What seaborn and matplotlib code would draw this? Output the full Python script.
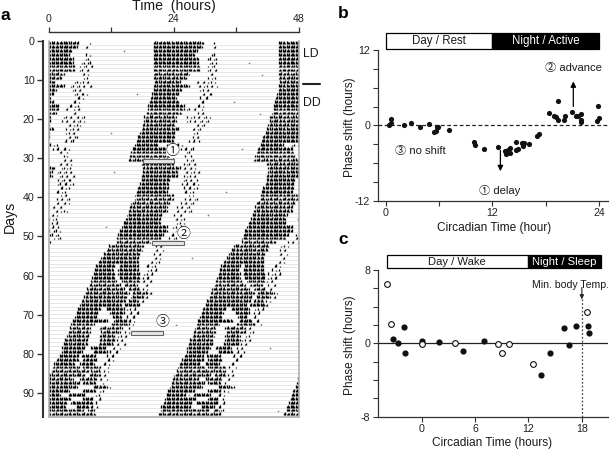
import numpy as np
import pandas as pd
import matplotlib
matplotlib.use("Agg")
import matplotlib.pyplot as plt
import seaborn as sns

nan = float("nan")
# ---------- panel a: activity bouts per day, hours ----------
onset_h = [20.0,20.0,20.0,20.0,20.0,20.0,20.0,20.0,20.1,20.2,20.4,20.0,
 20.0,19.9,19.7,19.4,19.1,19.1,18.8,18.4,18.4,18.1,17.8,17.5,17.2,16.8,16.5,16.2,15.9,15.6,15.4,
 17.8,18.1,18.1,17.8,17.8,17.5,17.2,16.8,16.7,16.5,15.9,15.6,15.3,15.1,14.8,14.3,14.0,13.7,13.3,13.1,13.0,
 11.7,11.1,10.6,10.1,9.7,9.2,8.9,8.6,8.4,8.0,7.8,7.4,7.1,6.8,6.3,6.0,5.7,5.4,5.0,
 4.7,4.4,4.2,3.8,3.5,3.1,2.8,2.7,2.5,2.0,1.7,1.2,0.9,0.6,0.1,-0.2,-0.5,-0.7,-1.1,-1.4,-1.7,-2.0,-2.3,-2.5,-2.8]
main_end_h = [29.6,29.3,28.3,28.0,28.6,28.6,29.0,29.0,27.0,26.4,25.2,27.0,
 25.5,25.0,24.5,25.0,25.8,25.8,25.5,24.5,24.5,24.2,24.8,24.2,24.2,23.9,21.0,22.6,22.9,23.2,23.9,
 23.9,25.1,24.6,24.6,23.2,22.9,22.9,22.6,23.9,23.9,23.2,22.6,22.6,21.6,21.3,21.3,22.6,22.6,22.0,21.3,19.4,
 18.1,17.8,17.5,17.2,17.2,12.7,12.4,12.7,12.7,13.0,13.7,14.3,15.3,15.0,14.6,14.0,9.8,9.5,9.2,
 11.1,8.6,7.9,7.9,7.6,7.3,7.3,7.0,6.3,5.7,5.7,5.0,6.0,7.6,7.0,4.7,6.0,5.4,4.0,2.2,4.1,3.4,3.1,6.6,8.9]
mid_start_h = [nan]*57 + [13.7,13.3,13.3,13.7,14.0,14.6,15.3,16.2,15.9,15.3,14.6,11.1,11.8,12.4,12.7,12.1,
 9.8,10.2,9.8,9.8,9.5,8.0,8.6,6.3,6.6,6.0,6.6,8.2,7.9,6.0,6.5,8.6,6.5,3.8,6.6,4.4,5.4,7.6,nan]
mid_end_h = [nan]*57 + [17.2,17.2,17.5,17.5,17.5,16.9,17.5,18.8,18.1,16.9,17.5,14.3,14.3,14.0,14.9,15.3,
 13.7,13.7,12.7,12.7,12.4,10.8,11.1,8.9,9.2,8.6,9.8,9.8,9.8,9.2,9.0,11.0,9.0,7.0,8.3,8.5,7.6,8.6,nan]
tail_start_h = [31.5,31.0,nan,31.0,30.6,30.4,30.0,30.0,30.6,30.6,28.3,28.3,28.6,29.0,29.0,28.7,28.0,26.5,28.6,26.7,
 26.4,27.7,27.4,27.4,27.7,26.7,22.6,24.5,25.8,26.1,26.4,25.8,25.8,25.8,25.8,25.5,25.5,25.8,25.5,25.8,
 25.5,25.1,24.5,24.5,24.2,23.9,24.2,23.9,23.9,23.2,23.2,21.3,20.4,20.4,20.0,20.0,19.4,
 18.8,18.8,18.1,18.1,17.8,18.1,18.0,18.8,18.1,16.9,17.5,15.2,15.2,15.2,15.0,15.3,14.0,14.3,13.3,13.0,12.7,
 12.0,11.8,11.1,11.4,10.5,10.5,10.5,10.0,9.8,9.8,11.0,9.5,8.5,9.0,9.0,8.0,9.0,nan]
tail_end_h = [32.0,32.2,nan,32.0,32.2,32.2,32.3,32.6,32.0,32.0,32.0,32.3,30.6,31.5,31.0,30.0,30.0,30.0,29.6,31.2,
 31.0,30.2,29.6,29.0,29.3,29.0,25.8,28.0,27.7,27.7,28.3,28.3,28.3,29.0,29.0,28.3,28.6,28.3,27.7,27.7,
 28.3,28.0,27.0,27.7,26.0,25.8,25.8,25.8,26.4,26.4,26.4,24.5,22.0,22.0,21.6,21.3,21.3,
 20.7,20.7,20.7,20.0,19.7,19.4,19.0,19.8,19.6,18.4,18.2,17.2,17.2,16.5,16.5,16.6,15.3,15.3,15.0,14.6,14.6,
 13.7,13.3,13.0,12.7,12.0,12.0,11.5,11.5,11.2,10.5,12.0,10.5,10.0,10.0,9.8,9.4,9.5,nan]
stray_day = [2,5,13,18,23,27,38,47,55,60,66,72,78,84,90,94,8,15,33,44]
stray_hour = [14.5,38.5,17.0,40.5,12.0,37.0,34.0,11.0,27.5,41.0,33.0,24.5,42.5,30.0,27.0,44.0,41.0,35.5,12.5,30.5]
bar_day = [30.1, 51.1, 74.1]
bar_hour = [18.1, 19.9, 15.9]
stim_labels = ["①", "②", "③"]
circle_hour = [23.8, 25.8, 21.9]
circle_day = [28.1, 49.3, 72.0]

# ---------- panel b ----------
b_ct = [0.41,0.6,0.64,2.1,2.81,3.9,4.84,5.44,5.62,5.74,5.92,7.09,9.9,10.01,11.1,12.6,13.42,13.57,13.72,13.99,13.99,
 14.62,14.62,14.89,15.3,15.49,15.6,16.12,17.06,17.29,18.37,18.97,19.16,19.35,19.35,20.1,20.17,20.92,21.37,21.67,
 21.93,21.93,21.93,23.73,23.96,23.92]
b_shift = [0,0.32,0.96,0,0.37,-0.27,0.21,-1.06,-0.85,-0.27,-0.32,-0.8,-2.6,-3.13,-3.72,-3.45,-4.04,-4.62,-3.93,-3.61,-4.46,
 -2.66,-3.98,-3.77,-2.76,-3.24,-2.76,-2.97,-1.75,-1.38,2.02,1.49,1.27,0.85,3.93,0.8,1.49,2.12,1.49,1.49,
 1.75,0.85,0.48,0.69,1.12,3.03]
# ---------- panel c ----------
c_open_ct = [-3.95,-3.39,0.07,3.76,8.57,9.06,9.8,12.49,18.6]
c_open_shift = [6.44,2.07,-0.11,0.04,-0.04,-1.02,-0.04,-2.22,3.38]
c_fill_ct = [-3.24,-2.61,-2.01,-1.83,0,1.94,4.62,7.01,13.42,14.42,15.95,16.51,17.29,18.71,18.79]
c_fill_shift = [0.44,0.04,1.75,-1.09,0.29,0.18,-0.84,0.29,-3.49,-1.05,1.71,-0.22,1.85,1.93,1.09]

sns.set_style("ticks")
plt.rcParams["font.family"] = ["Liberation Sans", "Noto Sans CJK SC", "DejaVu Sans"]
plt.rcParams["text.color"] = "#1a1a1a"
W, H = 609, 451
fig = plt.figure(figsize=(W/100, H/100), dpi=100, facecolor="white")
def box(l, t, r, b):
    return fig.add_axes([l/W, 1-b/H, (r-l)/W, (b-t)/H])
def ptxt(x, y, s, **kw):
    fig.text(x/W, 1-y/H, s, **kw)

FS = 7.7
LAB = 8.6
# ---------------- a ----------------
ax = box(48.5, 41, 299, 417)
ax.set_xlim(0, 48); ax.set_ylim(96.2, 0)
ax.hlines(np.arange(96)+0.95, 0, 48, color="#e6e6e6", lw=0.7)
dense = [0.66,0.46,0.72,0.54,0.74,0.38,0.7,0.5,0.62,0.74,0.42]
sparse = [0.5,0,0,0.28,0.6,0,0,0,0.36,0.6,0,0,0.22,0]
step = 0.25
def bout(day, a, b, pat):
    xs, y0, y1 = [], [], []
    if np.isnan(a):
        return xs, y0, y1
    for sh in (-24, 0, 24, 48):
        s, e = a+sh, b+sh
        if e <= 0 or s >= 48:
            continue
        k0 = int(np.floor(s/step))
        for k in range(k0, int(np.ceil(e/step))):
            h = pat[(k+day*3) % len(pat)]
            if h > 0:
                xs.append((k+0.5)*step); y0.append(day+0.78); y1.append(day+0.78-h)
    return xs, y0, y1
X, Y0, Y1 = [], [], []
for d in range(96):
    for a, b, p in ((onset_h[d], main_end_h[d], dense), (mid_start_h[d], mid_end_h[d], dense),
                    (tail_start_h[d], tail_end_h[d], sparse)):
        x, y0, y1 = bout(d, a, b, p)
        X += x; Y0 += y0; Y1 += y1
ax.vlines(X, Y0, Y1, color="black", lw=0.95)
sns.scatterplot(x=stray_hour, y=np.array(stray_day)+0.6, ax=ax, s=1.5, color="#777777", linewidth=0, legend=False)
for h, dd in zip(bar_hour, bar_day):
    ax.barh(dd+0.5, 6, left=h, height=1.0, color="#e8e8e8", edgecolor="#666666", lw=0.8, zorder=4)
for s, h, dd in zip(stim_labels, circle_hour, circle_day):
    ax.text(h, dd, s, ha="center", va="center", fontsize=10, color="#222222", zorder=5,
            bbox=dict(boxstyle="circle,pad=0.0", fc="white", ec="none"))
sns.despine(ax=ax, top=False, right=False, left=False, bottom=False)
for s in ("right", "bottom"):
    ax.spines[s].set_color("#b0b0b0"); ax.spines[s].set_linewidth(1.2)
ax.spines["left"].set_position(("outward", 4)); ax.spines["left"].set_linewidth(1.5); ax.spines["left"].set_color("#333333")
ax.spines["top"].set_position(("outward", 6.5)); ax.spines["top"].set_linewidth(1.0); ax.spines["top"].set_color("#333333")
ax.axvline(0, color="#b0b0b0", lw=1.2, clip_on=False)
ax.xaxis.tick_top()
ax.set_xticks([0, 12, 24, 36, 48]); ax.set_xticklabels(["0", "", "24", "", "48"])
ax.set_yticks(np.arange(0, 91, 10))
ax.tick_params(axis="x", length=3.5, width=0.9, labelsize=7.6, pad=2, color="#333333", labelcolor="#222222")
ax.tick_params(axis="y", length=4, width=1.0, labelsize=FS, pad=2, color="#333333", labelcolor="#222222")
ptxt(174, 6, "Time  (hours)", ha="center", va="center", fontsize=10.2)
ptxt(10, 217, "Days", rotation=90, ha="center", va="center", fontsize=10.2)
ptxt(302.5, 54, "LD", va="center", fontsize=8.8)
ptxt(302.5, 103, "DD", va="center", fontsize=8.8)
fig.add_artist(plt.Line2D([303/W, 320/W], [1-84/H]*2, color="#222222", lw=1.5))

# ---------------- b ----------------
bx = box(377.7, 50, 608, 200.7)
bx.set_xlim(-0.9, 25.0); bx.set_ylim(-12, 12)
bx.axhline(0, color="#222222", lw=0.9, ls=(0, (3, 2)))
sns.scatterplot(data=pd.DataFrame({"ct": b_ct, "shift": b_shift}), x="ct", y="shift", ax=bx,
                color="#111111", s=14, linewidth=0, legend=False, zorder=3)
sns.despine(ax=bx)
bx.set_xticks([0, 6, 12, 18, 24]); bx.set_xticklabels(["0", "", "12", "", "24"])
bx.set_yticks(np.arange(-12, 13, 3)); bx.set_yticklabels(["-12", "", "", "", "0", "", "", "", "12"])
bx.tick_params(length=3.5, width=0.8, labelsize=FS, pad=2, color="#333333", labelcolor="#222222")
bx.set_xlabel(""); bx.set_ylabel("")
for sp in ("left", "bottom"):
    bx.spines[sp].set_linewidth(0.9); bx.spines[sp].set_color("#333333")
bx.barh(13.4, 12, left=0, height=2.5, color="white", edgecolor="black", lw=0.9, clip_on=False)
bx.barh(13.4, 12, left=12, height=2.5, color="black", edgecolor="black", lw=0.9, clip_on=False)
bx.text(6, 13.4, "Day / Rest", ha="center", va="center", fontsize=8.3)
bx.text(18, 13.4, "Night / Active", ha="center", va="center", fontsize=8.3, color="white")
ptxt(573.5, 68, "② advance", ha="center", va="center", fontsize=8.1)
ptxt(500, 190, "① delay", ha="center", va="center", fontsize=8.1)
ptxt(420, 151, "③ no shift", ha="center", va="center", fontsize=8.1)
bx.annotate("", xy=(21.1, 7.0), xytext=(21.1, 3.0), arrowprops=dict(arrowstyle="-|>", color="black", lw=0.9, mutation_scale=8, shrinkA=0, shrinkB=0))
bx.annotate("", xy=(12.9, -7.3), xytext=(12.9, -4.0), arrowprops=dict(arrowstyle="-|>", color="black", lw=0.9, mutation_scale=8, shrinkA=0, shrinkB=0))
ptxt(494, 228, "Circadian Time (hour)", ha="center", va="center", fontsize=LAB)
ptxt(350, 127, "Phase shift (hours)", rotation=90, ha="center", va="center", fontsize=LAB)

# ---------------- c ----------------
cx = box(377.7, 270, 608, 416.7)
cx.set_xlim(-4.94, 20.94); cx.set_ylim(-8, 8)
cx.axhline(0, color="#222222", lw=0.9)
cx.plot([18, 18], [-8, 5.1], color="#444444", lw=0.9, ls=(0, (1.5, 1.5)))
sns.scatterplot(x=c_fill_ct, y=c_fill_shift, ax=cx, color="#111111", s=20, linewidth=0, legend=False, zorder=3)
sns.scatterplot(x=c_open_ct, y=c_open_shift, ax=cx, facecolor="white", edgecolor="#111111", s=17, linewidth=0.8, legend=False, zorder=3)
sns.despine(ax=cx)
cx.set_xticks([0, 6, 12, 18])
cx.set_yticks(np.arange(-8, 9, 2)); cx.set_yticklabels(["-8", "", "", "", "0", "", "", "", "8"])
cx.tick_params(length=3.5, width=0.8, labelsize=FS, pad=2, color="#333333", labelcolor="#222222")
for sp in ("left", "bottom"):
    cx.spines[sp].set_linewidth(0.9); cx.spines[sp].set_color("#333333")
cx.barh(8.9, 15.93, left=-3.93, height=1.45, color="white", edgecolor="black", lw=0.9, clip_on=False)
cx.barh(8.9, 8.1, left=12, height=1.45, color="black", edgecolor="black", lw=0.9, clip_on=False)
cx.text(4.0, 8.9, "Day / Wake", ha="center", va="center", fontsize=8.1)
cx.text(16.0, 8.9, "Night / Sleep", ha="center", va="center", fontsize=8.1, color="white")
ptxt(570, 285, "Min. body Temp.", ha="center", va="center", fontsize=7.6)
cx.annotate("", xy=(18, 4.8), xytext=(18, 6.1), arrowprops=dict(arrowstyle="-|>", color="#222222", lw=0.8, mutation_scale=6, shrinkA=0, shrinkB=0))
ptxt(491.7, 443, "Circadian Time (hours)", ha="center", va="center", fontsize=LAB)
ptxt(350, 345, "Phase shift (hours)", rotation=90, ha="center", va="center", fontsize=LAB)

for s, x, y in (("a", 5, 15), ("b", 343, 14), ("c", 343, 240)):
    ptxt(x, y, s, ha="center", va="center", fontsize=12.5, fontweight="bold", color="black")
fig.savefig("out.png", dpi=100)
